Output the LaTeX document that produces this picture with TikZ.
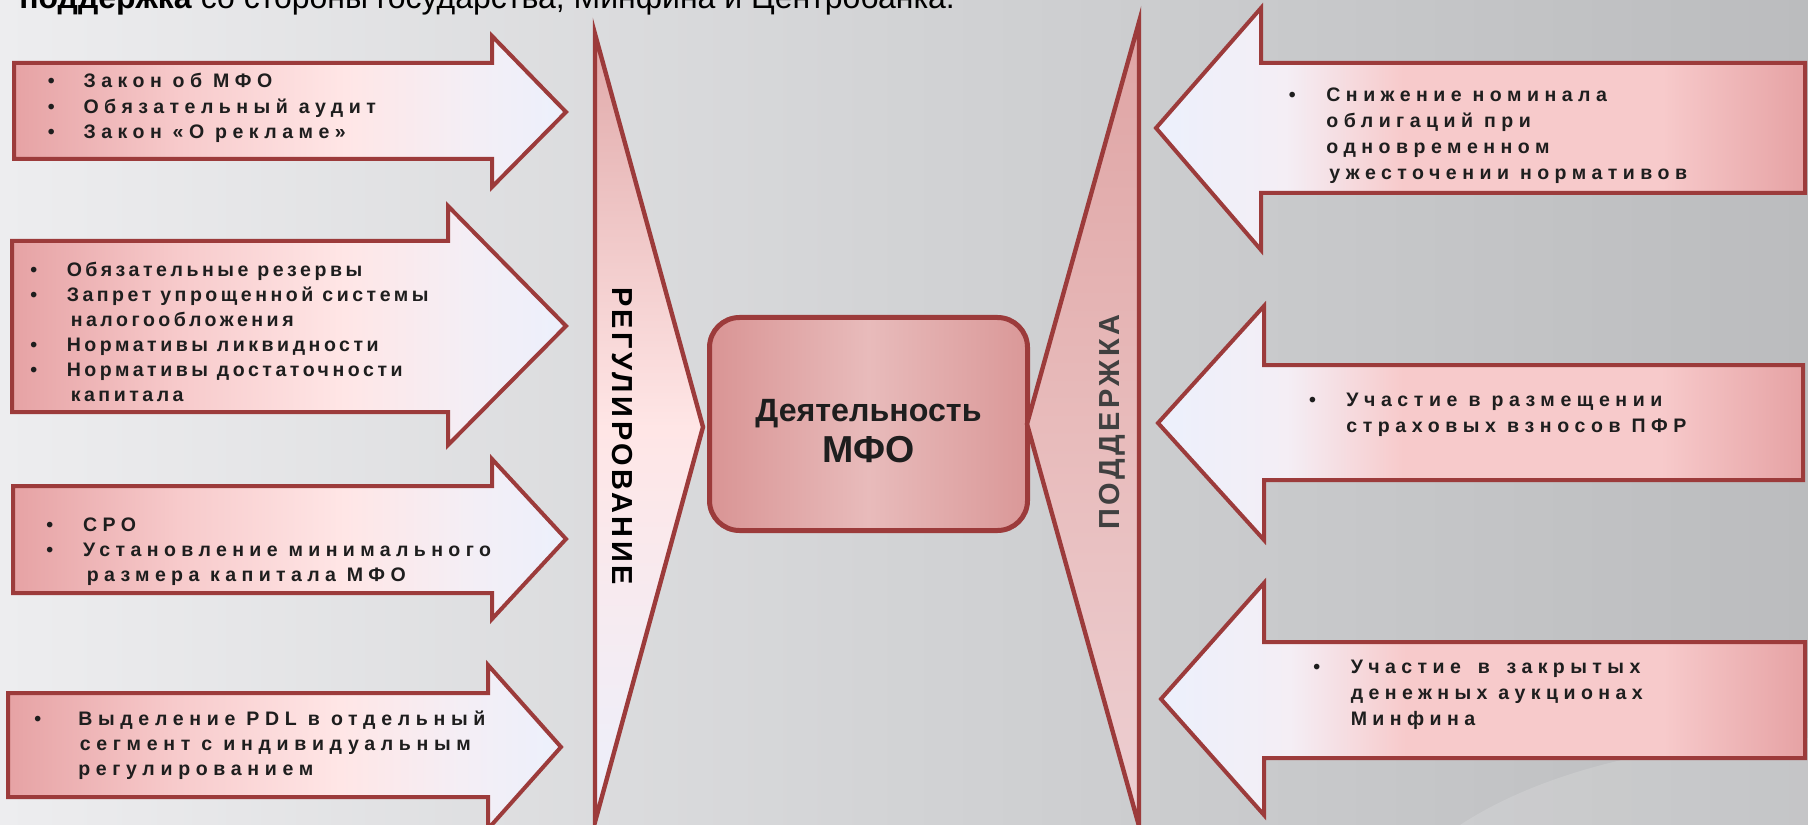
\documentclass[tikz,border=0pt]{standalone}
\usepackage{fontspec}
\setmainfont{Liberation Sans}
\usetikzlibrary{positioning}

\newdimen\pxu \pxu=0.25mm

\definecolor{frame}{HTML}{9C3B3B}
\definecolor{ink}{HTML}{1E1E1E}
\definecolor{bgl}{HTML}{EDEDEF}
\definecolor{bgm}{HTML}{D2D3D5}
\definecolor{bgr}{HTML}{BBBCBE}
\definecolor{pinkdark}{HTML}{E6A2A4}
\definecolor{pinkmid}{HTML}{F7CACB}
\definecolor{pinklight}{HTML}{FFE6E6}
\definecolor{lilac}{HTML}{F4EEF5}
\definecolor{paleblue}{HTML}{ECF0FC}
\definecolor{boxedge}{HTML}{D99494}
\definecolor{boxedgeR}{HTML}{DA9898}
\definecolor{boxmid}{HTML}{E8BBBB}

% shadings: path box = 25bp..75bp
\pgfdeclarehorizontalshading{toright}{100bp}{color(0bp)=(pinkdark); color(25bp)=(pinkdark);
  color(40bp)=(pinkmid); color(55bp)=(pinklight); color(66bp)=(lilac); color(75bp)=(paleblue); color(100bp)=(paleblue)}
\pgfdeclarehorizontalshading{toleft}{100bp}{color(0bp)=(paleblue); color(25bp)=(paleblue);
  color(35bp)=(lilac); color(44bp)=(pinkmid); color(64bp)=(pinkmid); color(75bp)=(pinkdark); color(100bp)=(pinkdark)}

\newcommand\itemfont[2]{\fontsize{13.9pt}{#2pt}\selectfont\bfseries\addfontfeatures{LetterSpace=#1}}
\newcommand\itm[1]{\makebox[#1\pxu][l]{•}}
\newcommand\cont[1]{\hspace*{#1\pxu}}

\tikzset{
  arrowR/.style={draw=frame, line width=1mm, shading=toright},
  arrowL/.style={draw=frame, line width=1mm, shading=toleft},
  itemtext/.style={anchor=base west, inner sep=0pt, text=ink},
  vlabel/.style={inner sep=0pt, font=\fontsize{20.6pt}{24pt}\selectfont\bfseries\addfontfeatures{LetterSpace=12}},
  mfobox/.style={draw=frame, line width=1.25mm, rounded corners=7.5mm,
    minimum width=79.5mm, minimum height=53.25mm,
    left color=boxedge, right color=boxedgeR, middle color=boxmid}
}

\begin{document}
\begin{tikzpicture}[x=0.25mm,y=-0.25mm]
  \useasboundingbox (0,0) rectangle (1808,825);
  \shade[left color=bgl, right color=bgr, middle color=bgm] (0,0) rectangle (1808,825);
  \fill[white,opacity=.15] (1460,825) .. controls (1560,760) and (1700,740) .. (1808,738) -- (1808,825) -- cycle;

  \node[anchor=base west, inner sep=0pt, font=\fontsize{22.75pt}{26pt}\selectfont] (title) at (19,9)
    {\textbf{поддержка} со стороны государства, Минфина и Центробанка.};

  % regulation arrows
  \draw[arrowR] (14,63) -- (492,63) -- (492,36) -- (566,112) -- (492,187) -- (492,159) -- (14,159) -- cycle;
  \draw[arrowR] (12,241) -- (448,241) -- (448,206) -- (566,326) -- (448,445) -- (448,412) -- (12,412) -- cycle;
  \draw[arrowR] (13,486) -- (492,486) -- (492,459) -- (566,539) -- (492,619) -- (492,593) -- (13,593) -- cycle;
  \draw[arrowR] (8,693) -- (488,693) -- (488,665) -- (561,747) -- (488,829) -- (488,797) -- (8,797) -- cycle;

  % support arrows
  \draw[arrowL] (1805,63) -- (1261,63) -- (1261,8) -- (1156,128) -- (1261,250) -- (1261,193) -- (1805,193) -- cycle;
  \draw[arrowL] (1803,365) -- (1264,365) -- (1264,306) -- (1158,423) -- (1264,540) -- (1264,480) -- (1803,480) -- cycle;
  \draw[arrowL] (1805,642) -- (1264,642) -- (1264,583) -- (1161,699) -- (1264,815) -- (1264,758) -- (1805,758) -- cycle;

  \node[itemtext, font=\itemfont{28}{17.9}] (zakon) at (47.5,88) {\begin{tabular}[t]{@{}l@{}}
    \itm{35.8}Закон об МФО\\
    \itm{35.8}Обязательный аудит\\
    \itm{35.8}Закон «О рекламе»\end{tabular}};
  \node[itemtext, font=\itemfont{18}{17.9}] (rezervy) at (30.2,276) {\begin{tabular}[t]{@{}l@{}}
    \itm{36.3}Обязательные резервы\\
    \itm{36.3}Запрет упрощенной системы\\
    \cont{40.3}налогообложения\\
    \itm{36.3}Нормативы ликвидности\\
    \itm{36.3}Нормативы достаточности\\
    \cont{40.3}капитала\end{tabular}};
  \node[itemtext, font=\itemfont{27.5}{17.8}] (sro) at (46.2,531) {\begin{tabular}[t]{@{}l@{}}
    \itm{36.7}СРО\\
    \itm{36.7}Установление минимального\\
    \cont{40.3}размера капитала МФО\end{tabular}};
  \node[itemtext, font=\itemfont{29}{17.8}] (pdl) at (34.2,725) {\begin{tabular}[t]{@{}l@{}}
    \itm{43.8}Выделение PDL в отдельный\\
    \cont{45.3}сегмент с индивидуальным\\
    \cont{43.8}регулированием\end{tabular}};

  \node[itemtext, font=\itemfont{28}{18.5}] (nominal) at (1288.5,101.7) {\begin{tabular}[t]{@{}l@{}}
    \itm{37.6}Снижение номинала\\
    \cont{37.6}облигаций при\\
    \cont{37.6}одновременном\\
    \cont{40.6}ужесточении нормативов\end{tabular}};
  \node[itemtext, font=\itemfont{28.5}{19.2}] (pfr) at (1308.8,406) {\begin{tabular}[t]{@{}l@{}}
    \itm{37.3}Участие в размещении\\
    \cont{37.3}страховых взносов ПФР\end{tabular}};
  \node[itemtext, font=\itemfont{27.7}{18.5}] (auktsion) at (1313,673) {\begin{tabular}[t]{@{}l@{}}
    \itm{37.5}Участие\hspace{6\pxu} в\hspace{6\pxu} закрытых\\
    \cont{37.5}денежных аукционах\\
    \cont{37.5}Минфина\end{tabular}};

  % side wedges and the centre
  \draw[frame, line width=1.1mm, top color=boxedge!80!white, bottom color=paleblue, middle color=pinklight]
    (595,34) -- (703,427) -- (595,822) -- cycle;
  \node[vlabel, rotate=-90, text=black] (regul) at (622,436) {РЕГУЛИРОВАНИЕ};

  \node[mfobox, text=ink, font=\fontsize{22.9pt}{28.7pt}\selectfont\bfseries] (mfo) at (868.5,424)
    {\raisebox{-10.1\pxu}[\height][\depth]{\begin{tabular}{@{}c@{}}
      Деятельность\\
      {\fontsize{26.7pt}{28.7pt}\selectfont МФО}\end{tabular}}};

  \draw[frame, line width=1.1mm, top color=boxedge!85!white, bottom color=boxmid!60!lilac, middle color=boxmid]
    (1139,22) -- (1027,424) -- (1139,826) -- cycle;
  \node[vlabel, rotate=90, text=ink!85] (podderzh) at (1112,422) {ПОДДЕРЖКА};
\end{tikzpicture}
\end{document}
